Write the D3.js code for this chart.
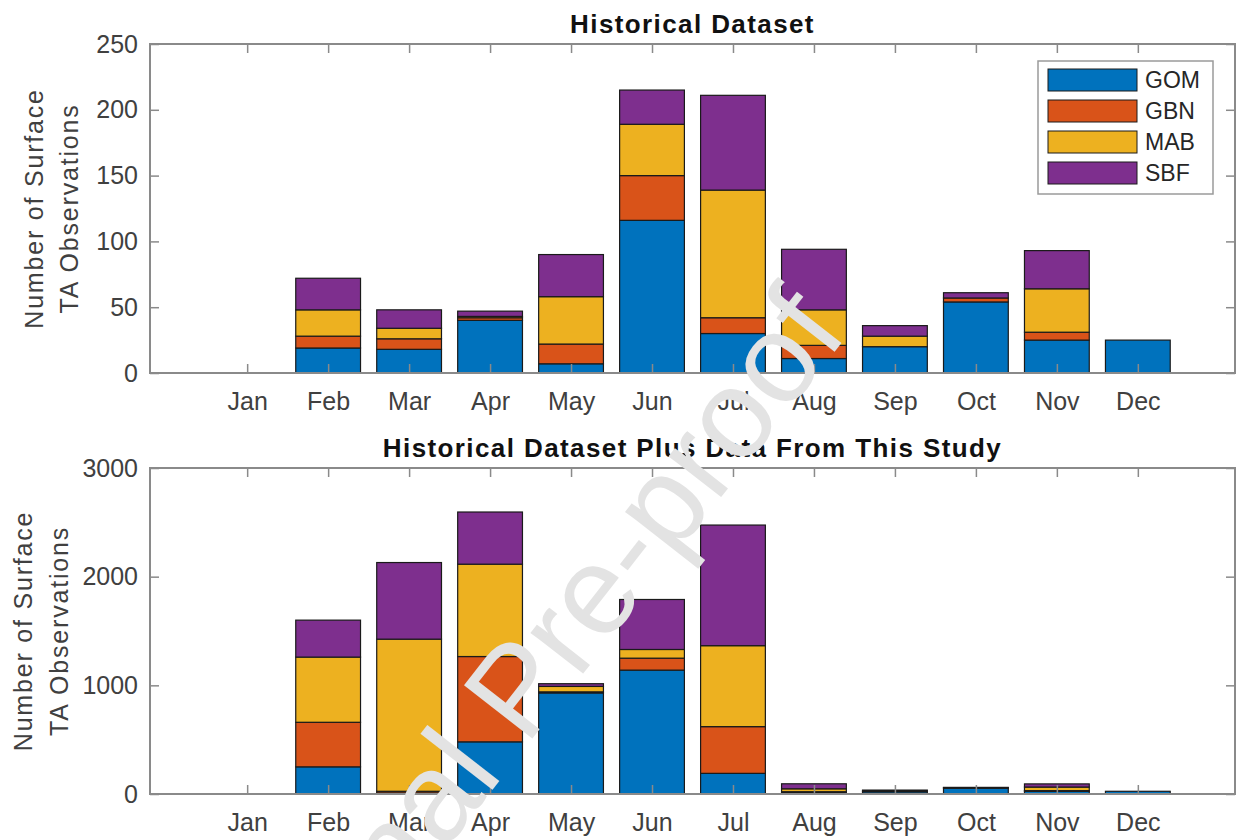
<!DOCTYPE html>
<html lang="en">
<head>
<meta charset="UTF-8">
<title>Surface TA Observations by Month</title>
<script src="https://d3js.org/d3.v7.min.js"></script>
<style>
  body { margin: 0; background: #fff; font-family: 'Liberation Sans', Arial, sans-serif; }
  .axis text { font-size: 25px; fill: #404040; font-family: 'Liberation Sans', Arial, sans-serif; }
  .axis line { stroke: #8a8a8a; stroke-width: 1.5px; }
  .axis path { display: none; }
  .frame { fill: none; stroke: #8a8a8a; stroke-width: 2px; }
  .title { font-size: 26px; font-weight: bold; fill: #111; letter-spacing: 1.4px; }
  .ylabel { font-size: 25px; fill: #404040; letter-spacing: 1.8px; }
  .bar { stroke: #1a1a1a; stroke-width: 1.2px; }
  .legend text { font-size: 23px; fill: #262626; }
  .watermark { font-size: 126px; fill: #e3e3e3; }
</style>
</head>
<body>
<div id="chart"></div>
<script>
const months = ["Jan", "Feb", "Mar", "Apr", "May", "Jun", "Jul", "Aug", "Sep", "Oct", "Nov", "Dec"];
const regions = ["GOM", "GBN", "MAB", "SBF"];
const colors = ["#0072BD", "#D95319", "#EDB120", "#7E2F8E"];

// historical dataset
const histGOM = [0, 19, 18, 40, 7, 116, 30, 11, 20, 54, 25, 25];
const histGBN = [0, 9, 8, 2, 15, 34, 12, 10, 0, 3, 6, 0];
const histMAB = [0, 20, 8, 1, 36, 39, 97, 27, 8, 0, 33, 0];
const histSBF = [0, 24, 14, 4, 32, 26, 72, 46, 8, 4, 29, 0];
const histTicks = [0, 50, 100, 150, 200, 250];

// historical plus this study
const allGOM = [0, 250, 10, 480, 930, 1140, 190, 11, 20, 54, 25, 25];
const allGBN = [0, 410, 15, 785, 10, 110, 430, 10, 0, 3, 6, 0];
const allMAB = [0, 600, 1400, 850, 50, 80, 745, 27, 8, 0, 33, 0];
const allSBF = [0, 340, 705, 480, 25, 460, 1110, 46, 8, 4, 29, 0];
const allTicks = [0, 1000, 2000, 3000];

const W = 1244, H = 840;
const svg = d3.select("#chart").append("svg")
    .attr("width", W)
    .attr("height", H);

const x = d3.scaleLinear().domain([-0.2, 13.2]).range([150, 1235]);
const barW = x(0.8) - x(0);

function makeRows(g, b, m, s) {
    return months.map((mo, i) => ({ month: mo, idx: i + 1, GOM: g[i], GBN: b[i], MAB: m[i], SBF: s[i] }));
}

function drawPanel(cfg) {
    const y = d3.scaleLinear().domain(cfg.domain).range([cfg.bottom, cfg.top]);
    const series = d3.stack().keys(regions)(cfg.rows);

    const g = svg.append("g");

    g.selectAll(".layer")
        .data(series)
        .enter()
        .append("g")
        .attr("fill", (d, i) => colors[i])
        .selectAll("rect")
        .data(d => d.filter(p => p[1] - p[0] > 0))
        .enter()
        .append("rect")
        .attr("class", "bar")
        .attr("x", d => x(d.data.idx) - barW / 2)
        .attr("y", d => y(d[1]))
        .attr("width", barW)
        .attr("height", d => y(d[0]) - y(d[1]));

    // axes with inward ticks on all four sides
    g.append("g")
        .attr("class", "axis")
        .attr("transform", "translate(0," + cfg.bottom + ")")
        .call(d3.axisBottom(x).tickValues(d3.range(1, 13)).tickFormat(d => months[d - 1])
            .tickSizeInner(-9).tickSizeOuter(0).tickPadding(19));

    g.append("g")
        .attr("class", "axis")
        .attr("transform", "translate(0," + cfg.top + ")")
        .call(d3.axisTop(x).tickValues(d3.range(1, 13)).tickFormat("")
            .tickSizeInner(-9).tickSizeOuter(0));

    g.append("g")
        .attr("class", "axis")
        .attr("transform", "translate(" + x.range()[0] + ",0)")
        .call(d3.axisLeft(y).tickValues(cfg.ticks).tickFormat(d3.format("d"))
            .tickSizeInner(-9).tickSizeOuter(0).tickPadding(12));

    g.append("g")
        .attr("class", "axis")
        .attr("transform", "translate(" + x.range()[1] + ",0)")
        .call(d3.axisRight(y).tickValues(cfg.ticks).tickFormat("")
            .tickSizeInner(-9).tickSizeOuter(0));

    g.append("rect")
        .attr("class", "frame")
        .attr("x", x.range()[0])
        .attr("y", cfg.top)
        .attr("width", x.range()[1] - x.range()[0])
        .attr("height", cfg.bottom - cfg.top);

    g.append("text")
        .attr("class", "title")
        .attr("x", (x.range()[0] + x.range()[1]) / 2)
        .attr("y", cfg.top - 11)
        .attr("text-anchor", "middle")
        .text(cfg.title);

    const cy = (cfg.top + cfg.bottom) / 2;
    cfg.ylab.forEach((line, i) => {
        g.append("text")
            .attr("class", "ylabel")
            .attr("transform", "translate(" + cfg.ylabX[i] + "," + cy + ") rotate(-90)")
            .attr("text-anchor", "middle")
            .text(line);
    });
}

drawPanel({
    rows: makeRows(histGOM, histGBN, histMAB, histSBF),
    domain: [0, 250], ticks: histTicks,
    top: 44, bottom: 373,
    title: "Historical Dataset",
    ylab: ["Number of Surface", "TA Observations"], ylabX: [43, 78]
});

drawPanel({
    rows: makeRows(allGOM, allGBN, allMAB, allSBF),
    domain: [0, 3000], ticks: allTicks,
    top: 468, bottom: 794,
    title: "Historical Dataset Plus Data From This Study",
    ylab: ["Number of Surface", "TA Observations"], ylabX: [32, 68]
});

// legend (top panel)
const legend = svg.append("g").attr("class", "legend");
legend.append("rect")
    .attr("x", 1038).attr("y", 61)
    .attr("width", 175).attr("height", 133)
    .attr("fill", "#fff").attr("stroke", "#9a9a9a").attr("stroke-width", 1.5);
regions.forEach((r, i) => {
    const ly = 69 + i * 31;
    legend.append("rect")
        .attr("x", 1048).attr("y", ly)
        .attr("width", 89).attr("height", 22)
        .attr("fill", colors[i]).attr("stroke", "#1a1a1a");
    legend.append("text")
        .attr("x", 1145).attr("y", ly + 11)
        .attr("dy", "0.35em")
        .text(r);
});

// watermark
svg.append("text")
    .attr("class", "watermark")
    .attr("transform", "translate(250,1100) rotate(-52)")
    .text("Journal Pre-proof");
</script>
</body>
</html>
